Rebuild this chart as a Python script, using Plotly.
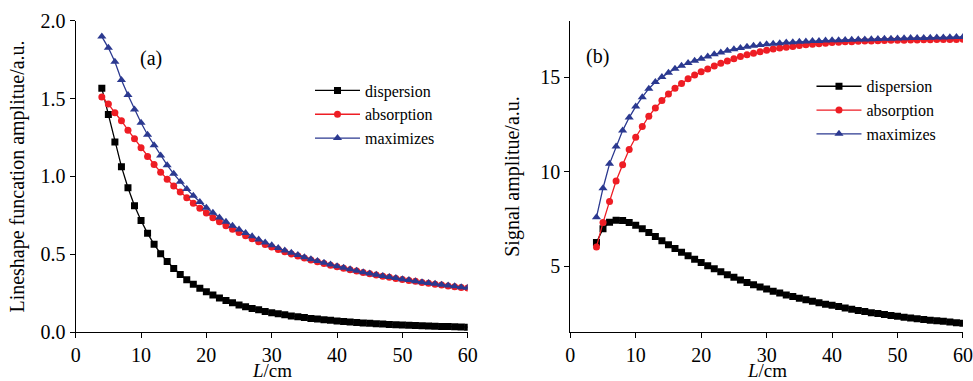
import plotly.graph_objects as go

L_cm = list(range(4, 61))

# (a) Lineshape function amplitude (a.u.)
disp_a = [1.566, 1.398, 1.222, 1.063, 0.928, 0.813, 0.717, 0.635, 0.565, 0.505,
          0.454, 0.409, 0.371, 0.338, 0.308, 0.283, 0.260, 0.239, 0.221, 0.204,
          0.190, 0.176, 0.164, 0.153, 0.144, 0.134, 0.126, 0.119, 0.112, 0.105,
          0.0997, 0.0943, 0.0894, 0.0849, 0.0805, 0.0767, 0.0733, 0.0698, 0.0664, 0.0633,
          0.0605, 0.0578, 0.0552, 0.0530, 0.0508, 0.0488, 0.0470, 0.0451, 0.0435, 0.0419,
          0.0404, 0.0389, 0.0377, 0.0365, 0.0352, 0.0341, 0.0330]
abs_a = [1.510, 1.466, 1.409, 1.358, 1.297, 1.242, 1.184, 1.129, 1.077, 1.028,
         0.982, 0.939, 0.900, 0.864, 0.829, 0.797, 0.766, 0.736, 0.709, 0.684,
         0.661, 0.640, 0.619, 0.600, 0.581, 0.564, 0.548, 0.532, 0.517, 0.503,
         0.489, 0.477, 0.464, 0.453, 0.442, 0.431, 0.421, 0.411, 0.402, 0.393,
         0.384, 0.376, 0.368, 0.360, 0.353, 0.346, 0.339, 0.333, 0.327, 0.320,
         0.315, 0.309, 0.304, 0.298, 0.293, 0.288, 0.284]
max_a = [1.898, 1.826, 1.737, 1.620, 1.523, 1.430, 1.345, 1.268, 1.200, 1.135,
         1.073, 1.017, 0.966, 0.919, 0.876, 0.836, 0.800, 0.767, 0.737, 0.710,
         0.684, 0.660, 0.637, 0.616, 0.595, 0.576, 0.558, 0.541, 0.525, 0.510,
         0.496, 0.482, 0.469, 0.457, 0.446, 0.435, 0.424, 0.414, 0.404, 0.395,
         0.386, 0.378, 0.370, 0.362, 0.355, 0.348, 0.341, 0.335, 0.328, 0.322,
         0.316, 0.311, 0.306, 0.300, 0.295, 0.290, 0.286]

# (b) Signal amplitude (a.u.)
disp_b = [6.26, 6.99, 7.33, 7.44, 7.42, 7.32, 7.17, 6.98, 6.78, 6.57,
          6.35, 6.14, 5.94, 5.74, 5.55, 5.37, 5.19, 5.02, 4.86, 4.70,
          4.55, 4.41, 4.27, 4.14, 4.02, 3.90, 3.79, 3.68, 3.58, 3.48,
          3.39, 3.30, 3.22, 3.14, 3.06, 2.99, 2.93, 2.86, 2.79, 2.72,
          2.66, 2.60, 2.54, 2.49, 2.44, 2.39, 2.35, 2.30, 2.26, 2.22,
          2.18, 2.14, 2.11, 2.08, 2.04, 2.01, 1.98]
abs_b = [6.02, 7.31, 8.43, 9.51, 10.37, 11.18, 11.83, 12.40, 12.94, 13.38,
         13.77, 14.12, 14.42, 14.68, 14.92, 15.12, 15.29, 15.44, 15.60, 15.74,
         15.87, 15.99, 16.10, 16.19, 16.28, 16.36, 16.43, 16.50, 16.55, 16.60,
         16.64, 16.68, 16.72, 16.75, 16.78, 16.81, 16.84, 16.86, 16.88, 16.89,
         16.91, 16.92, 16.93, 16.94, 16.95, 16.96, 16.97, 16.97, 16.98, 16.98,
         16.99, 16.99, 17.00, 17.00, 17.01, 17.01, 17.02]
max_b = [7.59, 9.13, 10.42, 11.34, 12.18, 12.87, 13.45, 13.95, 14.40, 14.75,
         15.02, 15.25, 15.45, 15.62, 15.76, 15.88, 15.99, 16.11, 16.22, 16.32,
         16.41, 16.49, 16.56, 16.62, 16.67, 16.71, 16.75, 16.78, 16.81, 16.84,
         16.86, 16.88, 16.90, 16.92, 16.93, 16.95, 16.96, 16.97, 16.98, 16.99,
         17.00, 17.01, 17.02, 17.03, 17.04, 17.05, 17.06, 17.07, 17.08, 17.08,
         17.09, 17.10, 17.11, 17.11, 17.12, 17.13, 17.14]

names = ["dispersion", "absorption", "maximizes"]
colors = ["#000000", "#ee1d24", "#2b3990"]
symbols = ["square", "circle", "triangle-up"]
msizes = [7, 7, 8]

FONT = "Liberation Serif, Times New Roman, serif"

fig = go.Figure()
for panel, series, xa, ya, lg in [
    ("a", [disp_a, abs_a, max_a], "x", "y", "legend"),
    ("b", [disp_b, abs_b, max_b], "x2", "y2", "legend2"),
]:
    for i, vals in enumerate(series):
        fig.add_trace(go.Scatter(
            x=L_cm, y=vals, mode="lines+markers", name=names[i],
            xaxis=xa, yaxis=ya, legend=lg,
            line=dict(color=colors[i], width=1.3),
            marker=dict(symbol=symbols[i], size=msizes[i], color=colors[i]),
        ))

axis_common = dict(
    showline=True, linecolor="black", linewidth=1.3, mirror=False,
    ticks="outside", ticklen=5, tickwidth=1.3, tickcolor="black",
    showgrid=False, zeroline=False, automargin=False,
    tickfont=dict(family=FONT, size=20, color="black"),
)

fig.update_layout(
    width=973, height=381,
    margin=dict(l=0, r=0, t=0, b=0, autoexpand=False),
    paper_bgcolor="white", plot_bgcolor="white",
    font=dict(family=FONT, size=20, color="black"),
    xaxis=dict(domain=[0.0778, 0.4807], range=[0, 60], dtick=10, anchor="y",
               **axis_common),
    yaxis=dict(domain=[0.1278, 0.9457], range=[0, 2], dtick=0.5, tickformat=".1f", anchor="x",
               title=dict(text="Lineshape funcation amplitue/a.u.", font=dict(family=FONT, size=20), standoff=10),
               **axis_common),
    xaxis2=dict(domain=[0.5861, 0.9897], range=[0, 60], dtick=10, anchor="y2",
                **axis_common),
    yaxis2=dict(domain=[0.1278, 0.9457], range=[1.5, 18], tickvals=[5, 10, 15], anchor="x2",
                title=dict(text="Signal amplitue/a.u.", font=dict(family=FONT, size=20), standoff=15),
                **axis_common),
    legend=dict(x=0.3186, y=0.807, xanchor="left", yanchor="top",
                bgcolor="rgba(0,0,0,0)", font=dict(family=FONT, size=16),
                tracegroupgap=0, itemwidth=45),
    legend2=dict(x=0.834, y=0.818, xanchor="left", yanchor="top",
                 bgcolor="rgba(0,0,0,0)", font=dict(family=FONT, size=16),
                 tracegroupgap=0, itemwidth=45),
    annotations=[
        dict(text="(a)", x=0.1415, y=0.882, xref="paper", yref="paper",
             showarrow=False, font=dict(family=FONT, size=20)),
        dict(text="(b)", x=0.6138, y=0.886, xref="paper", yref="paper",
             showarrow=False, font=dict(family=FONT, size=20)),
        dict(text="<i>L</i>/cm", x=0.2792, y=-0.004, xref="paper", yref="paper",
             xanchor="center", yanchor="bottom", showarrow=False,
             font=dict(family=FONT, size=19)),
        dict(text="<i>L</i>/cm", x=0.7879, y=-0.004, xref="paper", yref="paper",
             xanchor="center", yanchor="bottom", showarrow=False,
             font=dict(family=FONT, size=19)),
    ],
)

fig.write_html("out.html")
